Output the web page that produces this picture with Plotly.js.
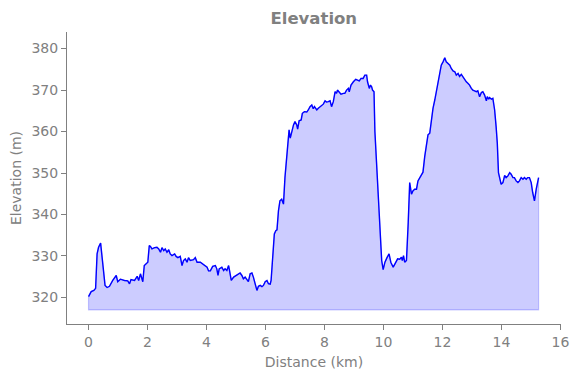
<!DOCTYPE html>
<html>
<head>
<meta charset="utf-8">
<script src="https://cdn.plot.ly/plotly-3.0.1.min.js"></script>
<style>html,body{margin:0;padding:0;background:#fff;}#chart{width:579px;height:378px;}</style>
</head>
<body>
<div id="chart"></div>
<script>
const distance_km = [
0.00,0.09,0.18,0.24,0.29,0.34,0.41,0.46,0.51,0.56,0.63,0.71,0.82,0.94,0.99,1.08,1.22,1.33,1.39,1.44,1.56,1.65,1.70,1.76,1.84,1.89,2.01,2.06,
2.10,2.15,2.24,2.32,2.38,2.44,2.49,2.55,2.60,2.66,2.72,2.77,2.83,2.92,2.97,3.03,3.11,3.17,3.22,3.28,3.34,3.39,3.45,3.56,3.62,3.68,3.79,3.90,4.02,4.07,
4.13,4.21,4.30,4.35,4.39,4.43,4.52,4.58,4.63,4.69,4.75,4.78,4.84,4.92,5.03,5.14,5.20,5.25,5.31,5.37,5.42,5.48,5.54,5.59,5.65,5.71,5.76,5.82,5.88,5.93,5.99,6.05,6.10,
6.16,6.19,6.24,6.30,6.35,6.39,6.44,6.49,6.55,6.61,6.66,6.72,6.78,6.80,6.84,6.89,6.95,7.00,7.06,7.09,7.14,7.21,7.25,7.32,7.40,7.45,7.51,7.57,7.62,7.66,7.74,7.79,7.85,7.91,7.96,8.02,8.07,8.13,8.19,
8.24,8.30,8.36,8.41,8.44,8.49,8.56,8.64,8.69,8.75,8.81,8.84,8.90,8.98,9.06,9.12,9.18,9.24,9.31,9.37,9.43,9.46,9.52,9.56,9.60,9.63,9.68,9.71,9.77,9.82,9.88,9.94,9.99,10.05,
10.12,10.19,10.25,10.33,10.39,10.48,10.55,10.61,10.64,10.68,10.72,10.78,10.84,10.89,10.95,11.00,11.06,11.12,11.17,11.23,11.29,11.34,11.40,11.45,11.51,11.57,11.62,11.68,11.74,11.79,11.85,11.91,11.96,12.02,12.08,12.13,12.19,12.25,
12.30,12.36,12.42,12.47,12.53,12.58,12.64,12.70,12.75,12.81,12.87,12.92,12.98,13.03,13.09,13.15,13.20,13.26,13.32,13.37,13.43,13.49,13.52,13.57,13.60,13.66,13.71,13.77,13.82,13.86,13.90,13.94,13.99,
14.05,14.11,14.16,14.22,14.28,14.33,14.39,14.44,14.50,14.56,14.61,14.67,14.73,14.78,14.84,14.89,14.95,15.01,15.06,15.12,15.18,15.23,15.26
];
const elevation_m = [
320.2,321.4,321.7,322.2,330.5,332.1,333.1,329.7,325.0,322.9,322.4,322.7,324.1,325.3,323.8,324.4,324.1,324.0,323.3,324.3,324.1,325.1,324.1,325.7,323.8,327.7,328.5,332.5,
332.3,331.7,332.0,332.1,331.7,330.9,332.0,331.3,331.7,330.9,331.5,330.5,330.1,330.5,329.9,329.6,329.9,327.7,328.9,329.3,328.5,329.6,328.9,329.1,329.6,328.5,328.5,328.0,327.3,326.4,
326.4,327.5,327.7,326.9,325.3,326.9,327.3,326.5,326.9,326.5,327.7,326.5,324.1,324.9,325.3,325.9,325.3,324.5,324.9,324.3,323.8,325.7,325.9,324.9,322.9,321.7,322.7,322.9,322.6,322.9,323.8,324.1,323.3,
323.2,324.1,330.5,335.3,336.1,336.3,340.9,343.3,343.7,342.5,348.9,354.4,358.4,360.4,358.4,360.0,361.6,362.4,361.6,360.6,362.6,362.8,364.4,364.8,364.7,365.2,366.0,366.4,365.5,366.0,365.2,365.6,366.0,366.4,366.6,367.4,367.1,367.2,367.4,
366.0,367.2,369.6,369.2,370.0,369.6,369.0,369.2,369.2,370.0,370.4,369.6,371.2,372.0,372.6,372.4,372.2,372.8,372.8,373.6,373.6,372.0,370.4,371.2,370.8,370.0,369.6,360.0,352.1,342.5,334.5,328.9,326.7,328.5,
329.6,330.5,328.5,327.3,328.1,329.3,329.2,329.7,328.9,330.1,328.5,328.9,338.1,347.7,344.9,345.7,346.1,346.1,348.1,348.9,349.7,350.2,354.0,356.1,359.2,359.6,362.8,365.6,367.6,369.6,372.0,374.0,376.0,376.8,377.8,376.8,376.4,376.0,
375.2,374.6,374.4,373.6,374.0,373.3,373.8,373.2,372.4,372.0,371.6,371.2,370.4,370.0,369.8,369.6,369.8,368.4,369.4,369.6,368.8,367.4,368.4,367.8,368.2,367.8,368.0,365.2,361.2,357.2,350.1,348.9,347.3,
347.7,349.4,348.9,349.3,350.1,349.7,348.9,348.9,348.1,347.7,348.1,348.9,348.5,348.9,348.5,348.9,348.9,347.7,345.3,343.3,346.1,348.1,348.9
];
const baseline_m = 317;
const x_ticks = [0,2,4,6,8,10,12,14,16];
const y_ticks = [320,330,340,350,360,370,380];

const n = distance_km.length;
const fillX = distance_km.concat([distance_km[n-1], distance_km[0], distance_km[0]]);
const fillY = elevation_m.concat([baseline_m, baseline_m, elevation_m[0]]);

const gray = '#808080';
const font = 'DejaVu Sans, sans-serif';

const traces = [
  {x: fillX, y: fillY, type: 'scatter', mode: 'lines', fill: 'toself',
   fillcolor: 'rgba(0,0,255,0.2)', line: {color: 'rgba(0,0,255,0.2)', width: 1.2},
   hoverinfo: 'skip', showlegend: false},
  {x: distance_km, y: elevation_m, type: 'scatter', mode: 'lines',
   line: {color: '#0000ff', width: 1.4}, showlegend: false}
];

const layout = {
  width: 579, height: 378,
  paper_bgcolor: '#fff', plot_bgcolor: '#fff',
  margin: {l: 67, r: 18, t: 32, b: 54},
  font: {family: font, color: gray, size: 14},
  title: {text: 'Elevation', font: {family: font, size: 16.5, color: gray, weight: 'bold'},
          x: 0.542, xanchor: 'center', xref: 'container', y: 0.952, yanchor: 'middle', yref: 'container'},
  xaxis: {range: [-0.73, 16.02], tickvals: x_ticks, ticktext: x_ticks.map(String),
          ticks: 'outside', ticklen: 5, tickwidth: 1, tickcolor: gray,
          showline: true, linecolor: gray, linewidth: 1, showgrid: false, zeroline: false,
          tickfont: {family: font, size: 14, color: gray},
          title: {text: 'Distance (km)', font: {family: font, size: 14, color: gray}, standoff: 8}},
  yaxis: {range: [313.6, 384.0], tickvals: y_ticks, ticktext: y_ticks.map(String),
          ticks: 'outside', ticklen: 5, tickwidth: 1, tickcolor: gray,
          showline: true, linecolor: gray, linewidth: 1, showgrid: false, zeroline: false,
          tickfont: {family: font, size: 14, color: gray},
          title: {text: 'Elevation (m)', font: {family: font, size: 14, color: gray}, standoff: 6}}
};

Plotly.newPlot('chart', traces, layout, {displayModeBar: false, staticPlot: true});
</script>
</body>
</html>
